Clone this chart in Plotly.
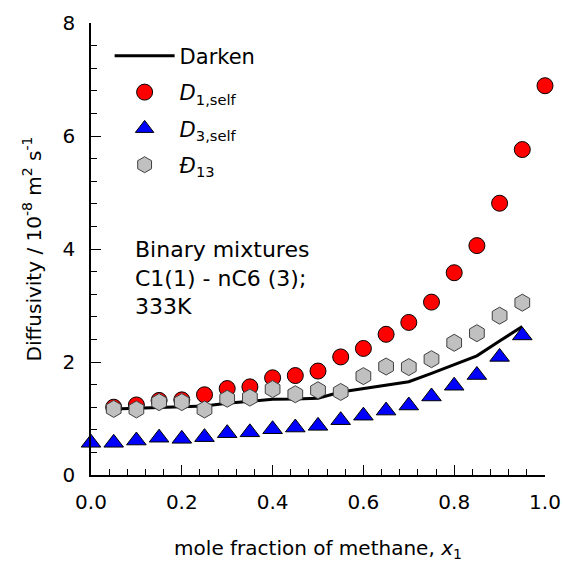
import plotly.graph_objects as go

# Data
x_darken = [0.05, 0.10, 0.15, 0.20, 0.25, 0.30, 0.35, 0.40, 0.45, 0.50,
            0.55, 0.60, 0.65, 0.70, 0.75, 0.80, 0.85, 0.90, 0.95]
y_darken = [1.17, 1.18, 1.20, 1.21, 1.22, 1.27, 1.30, 1.34, 1.345, 1.36,
            1.47, 1.53, 1.58, 1.65, 1.80, 1.96, 2.11, 2.37, 2.63]

x_d1 = [0.05, 0.10, 0.15, 0.20, 0.25, 0.30, 0.35, 0.40, 0.45, 0.50,
        0.55, 0.60, 0.65, 0.70, 0.75, 0.80, 0.85, 0.90, 0.95, 1.00]
y_d1 = [1.20, 1.24, 1.32, 1.33, 1.42, 1.53, 1.56, 1.72, 1.76, 1.84,
        2.09, 2.24, 2.49, 2.70, 3.06, 3.58, 4.06, 4.81, 5.76, 6.89]

x_d3 = [0.00, 0.05, 0.10, 0.15, 0.20, 0.25, 0.30, 0.35, 0.40, 0.45,
        0.50, 0.55, 0.60, 0.65, 0.70, 0.75, 0.80, 0.85, 0.90, 0.95]
y_d3 = [0.57, 0.57, 0.61, 0.66, 0.64, 0.67, 0.74, 0.755, 0.81, 0.84,
        0.87, 0.97, 1.05, 1.14, 1.23, 1.39, 1.58, 1.77, 2.09, 2.47]

x_d13 = [0.05, 0.10, 0.15, 0.20, 0.25, 0.30, 0.35, 0.40, 0.45, 0.50,
         0.55, 0.60, 0.65, 0.70, 0.75, 0.80, 0.85, 0.90, 0.95]
y_d13 = [1.17, 1.16, 1.29, 1.29, 1.16, 1.35, 1.37, 1.52, 1.43, 1.50,
         1.47, 1.75, 1.92, 1.91, 2.05, 2.34, 2.51, 2.82, 3.05]

FONT = "DejaVu Sans, Liberation Sans, Arial, sans-serif"

fig = go.Figure()
fig.add_trace(go.Scatter(x=x_darken, y=y_darken, mode="lines", name="Darken",
                         line=dict(color="black", width=3), legendgroup="a"))
fig.add_trace(go.Scatter(x=x_d1, y=y_d1, mode="markers",
                         name="<i>D</i><sub>1,self</sub>", legendgroup="b",
                         marker=dict(symbol="circle", size=16, color="#FF0000",
                                     line=dict(color="black", width=1)),
                         cliponaxis=False))
fig.add_trace(go.Scatter(x=x_d3, y=y_d3, mode="markers",
                         name="<i>D</i><sub>3,self</sub>", legendgroup="c",
                         marker=dict(symbol="triangle-up", size=17, color="#0000FF",
                                     line=dict(color="black", width=1)),
                         cliponaxis=False))
fig.add_trace(go.Scatter(x=x_d13, y=y_d13, mode="markers",
                         name="<i>Đ</i><sub>13</sub>", legendgroup="d",
                         marker=dict(symbol="hexagon", size=17, color="#C0C0C0",
                                     line=dict(color="#404040", width=1)),
                         cliponaxis=False))

fig.add_annotation(x=0.092, y=4.25, xref="x", yref="y", xanchor="left", yanchor="top",
                   text="Binary mixtures<br>C1(1) - nC6 (3);<br>333K",
                   showarrow=False, align="left",
                   font=dict(family=FONT, size=22, color="black"))

fig.update_layout(
    width=563, height=566,
    margin=dict(l=91, r=18, t=23, b=91),
    paper_bgcolor="white", plot_bgcolor="white",
    font=dict(family=FONT, size=20, color="black"),
    showlegend=True,
    legend=dict(x=0.041, y=0.972, xanchor="left", yanchor="top",
                bgcolor="rgba(0,0,0,0)", font=dict(family=FONT, size=21),
                tracegroupgap=6, itemsizing="trace", itemwidth=60),
    xaxis=dict(range=[0, 1], dtick=0.2, tickformat=".1f",
               showline=True, linecolor="black", linewidth=1.5,
               ticks="inside", ticklen=10, tickwidth=1.2, tickcolor="black",
               minor=dict(ticks="inside", ticklen=6, dtick=0.04, tickcolor="black", tickwidth=1),
               showgrid=False, zeroline=False, ticklabelstandoff=8, automargin=False,
               title=dict(text="mole fraction of methane, <i>x</i><sub>1</sub>",
                          font=dict(family=FONT, size=20), standoff=28)),
    yaxis=dict(range=[0, 8], dtick=2,
               showline=True, linecolor="black", linewidth=1.5,
               ticks="inside", ticklen=10, tickwidth=1.2, tickcolor="black",
               minor=dict(ticks="inside", ticklen=6, dtick=0.4, tickcolor="black", tickwidth=1),
               showgrid=False, zeroline=False, ticklabelstandoff=10, automargin=False,
               title=dict(text="Diffusivity / 10<sup>-8</sup> m<sup>2</sup> s<sup>-1</sup>",
                          font=dict(family=FONT, size=20), standoff=16)),
)

fig.write_html("out.html", config={"displayModeBar": False},
               post_script="document.body.style.margin='0';")
